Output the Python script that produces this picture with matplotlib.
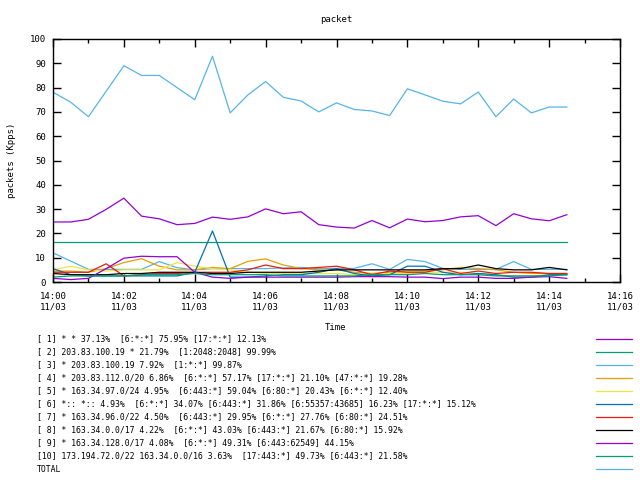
import matplotlib
matplotlib.use("Agg")
import matplotlib.pyplot as plt
from matplotlib.lines import Line2D
from matplotlib.ticker import MultipleLocator, FuncFormatter

# minutes after 14:00, one sample every 30 s
minutes = [i * 0.5 for i in range(30)]

labels = [
    "[ 1] * * 37.13%  [6:*:*] 75.95% [17:*:*] 12.13%",
    "[ 2] 203.83.100.19 * 21.79%  [1:2048:2048] 99.99%",
    "[ 3] * 203.83.100.19 7.92%  [1:*:*] 99.87%",
    "[ 4] * 203.83.112.0/20 6.86%  [6:*:*] 57.17% [17:*:*] 21.10% [47:*:*] 19.28%",
    "[ 5] * 163.34.97.0/24 4.95%  [6:443:*] 59.04% [6:80:*] 20.43% [6:*:*] 12.40%",
    "[ 6] *:: *:: 4.93%  [6:*:*] 34.07% [6:443:*] 31.86% [6:55357:43685] 16.23% [17:*:*] 15.12%",
    "[ 7] * 163.34.96.0/22 4.50%  [6:443:*] 29.95% [6:*:*] 27.76% [6:80:*] 24.51%",
    "[ 8] * 163.34.0.0/17 4.22%  [6:*:*] 43.03% [6:443:*] 21.67% [6:80:*] 15.92%",
    "[ 9] * 163.34.128.0/17 4.08%  [6:*:*] 49.31% [6:443:62549] 44.15%",
    "[10] 173.194.72.0/22 163.34.0.0/16 3.63%  [17:443:*] 49.73% [6:443:*] 21.58%",
    "TOTAL",
]

colors = ["#9400D3", "#009E73", "#56B4E9", "#E69F00", "#F0E442",
          "#0072B2", "#E51E10", "black", "#9400D3", "#009E73", "#56B4E9"]

s1 = [24.7, 24.7, 25.8, 29.9, 34.5, 27.1, 26.0, 23.6, 24.1, 26.7,
      25.8, 26.8, 30.1, 28.1, 28.9, 23.6, 22.6, 22.2, 25.3, 22.3,
      25.9, 24.8, 25.3, 26.8, 27.3, 23.2, 28.1, 26.0, 25.2, 27.7]
s2 = [16.6] * 30
s3 = [12.0, 8.6, 5.2, 5.2, 5.2, 5.2, 8.4, 5.9, 5.0, 5.5,
      5.5, 5.5, 5.5, 5.8, 6.0, 5.5, 5.6, 5.6, 7.5, 5.2,
      9.3, 8.4, 5.6, 5.2, 5.2, 5.2, 8.4, 5.2, 5.2, 5.2]
s4 = [4.5, 4.5, 4.0, 5.5, 8.0, 9.6, 6.5, 5.0, 5.0, 6.0,
      5.5, 8.5, 9.5, 7.0, 5.5, 5.0, 5.0, 4.0, 3.5, 4.0,
      4.5, 4.5, 5.0, 6.0, 5.5, 5.0, 4.0, 3.5, 3.5, 3.5]
s5 = [5.0, 6.5, 5.0, 4.5, 5.0, 5.0, 5.0, 8.0, 6.5, 5.5,
      5.0, 4.0, 3.5, 3.5, 3.5, 3.5, 3.5, 3.0, 3.0, 3.5,
      3.5, 4.0, 4.0, 4.0, 3.5, 3.0, 2.5, 2.5, 3.0, 3.0]
s6 = [5.5, 3.0, 2.5, 2.5, 2.5, 2.5, 2.5, 2.5, 4.0, 21.0,
      2.0, 2.0, 2.5, 3.0, 3.0, 4.0, 5.5, 3.5, 2.5, 3.0,
      6.5, 6.5, 4.0, 3.0, 3.5, 3.0, 2.0, 2.0, 3.0, 3.0]
s7 = [4.0, 4.0, 4.0, 7.5, 2.5, 3.0, 3.5, 3.5, 4.0, 4.0,
      4.0, 5.0, 7.0, 5.5, 5.5, 6.0, 6.5, 5.0, 3.0, 4.5,
      4.0, 4.0, 5.5, 3.5, 4.5, 3.5, 4.0, 4.0, 3.5, 3.5]
s8 = [3.5, 3.0, 3.0, 3.0, 3.5, 3.5, 4.0, 4.0, 4.0, 3.5,
      3.5, 4.0, 4.0, 4.0, 4.0, 4.5, 5.0, 5.0, 5.0, 5.0,
      5.0, 5.0, 5.5, 5.5, 7.0, 5.5, 5.0, 5.0, 6.0, 5.0]
s9 = [1.5, 1.0, 1.5, 5.5, 9.8, 10.6, 10.4, 10.4, 4.0, 2.0,
      1.5, 2.0, 2.0, 2.0, 2.0, 2.0, 2.0, 2.2, 2.2, 2.2,
      2.0, 2.0, 1.4, 2.0, 2.0, 1.5, 1.5, 2.0, 2.2, 1.5]
s10 = [2.0, 2.5, 2.5, 2.5, 2.5, 3.0, 3.0, 3.0, 3.5, 3.0,
       3.0, 3.0, 3.0, 2.5, 2.5, 2.5, 2.5, 2.5, 3.0, 3.0,
       3.0, 3.5, 3.0, 3.0, 3.0, 2.5, 2.5, 2.5, 2.5, 3.0]
total = [78.1, 74.0, 68.0, 78.5, 89.0, 85.0, 85.0, 80.0, 75.0, 92.9,
         69.6, 77.0, 82.5, 76.0, 74.5, 70.0, 73.7, 71.0, 70.4, 68.5,
         79.5, 77.0, 74.4, 73.3, 78.2, 68.0, 75.3, 69.6, 72.0, 72.0]

series = [s1, s2, s3, s4, s5, s6, s7, s8, s9, s10, total]

font = "DejaVu Sans Mono"
fs = 6.5
fs_key = 5.9
plt.rcParams["font.family"] = font
plt.rcParams["font.size"] = fs

fig = plt.figure(figsize=(6.4, 4.8), dpi=100)
W, H = 640.0, 480.0
ax = fig.add_axes([53 / W, 1 - 282 / H, 567 / W, 243 / H])

for vals, c in zip(series, colors):
    ax.plot(minutes, vals, color=c, linewidth=0.9)

ax.set_xlim(0, 16)
ax.set_ylim(0, 100)
ax.xaxis.set_major_locator(MultipleLocator(2))
ax.xaxis.set_minor_locator(MultipleLocator(1))
ax.yaxis.set_major_locator(MultipleLocator(10))
ax.xaxis.set_major_formatter(FuncFormatter(lambda v, p: "14:%02d\n11/03" % int(round(v))))
ax.tick_params(which="both", direction="in", top=True, right=True, width=1, labelsize=fs)
ax.tick_params(which="major", length=6)
ax.tick_params(which="minor", length=3)
ax.tick_params(axis="x", pad=7)
ax.tick_params(axis="y", pad=5)
for sp in ax.spines.values():
    sp.set_linewidth(1)

fig.text(336 / W, 1 - 19 / H, "packet", ha="center", va="center", fontsize=fs)
fig.text(336 / W, 1 - 328 / H, "Time", ha="center", va="center", fontsize=fs)
fig.text(12 / W, 1 - 160 / H, "packets (Kpps)", ha="center", va="center",
         rotation=90, fontsize=fs)

# key below the plot: text on the left, line sample at the far right
for i, (lab, c) in enumerate(zip(labels, colors)):
    yy = 1 - (339 + 13 * i) / H
    fig.text(37 / W, yy, lab, ha="left", va="center", fontsize=fs_key)
    fig.add_artist(Line2D([596 / W, 632 / W], [yy, yy], color=c, linewidth=0.9,
                          transform=fig.transFigure))

fig.savefig("out.png", dpi=100)
